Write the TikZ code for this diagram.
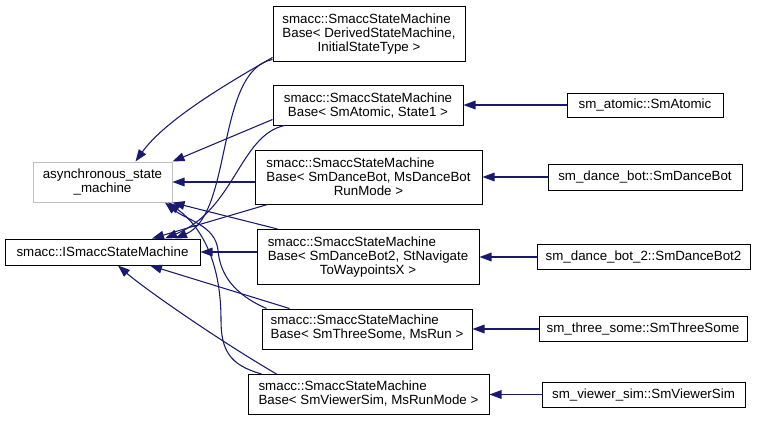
\documentclass[tikz,border=0pt]{standalone}
\usepackage{fontspec}
\setmainfont{Liberation Sans}
\usepackage{xcolor}
\usepackage{tikz}
\usetikzlibrary{arrows.meta}
\definecolor{dgnavy}{RGB}{25,25,112}
\definecolor{dgray}{RGB}{191,191,191}
\newcommand{\lrows}[1]{\begin{tabular}[b]{@{}l@{}}#1\end{tabular}}

\begin{document}
\begin{tikzpicture}[x=0.75pt, y=-0.75pt,
  every node/.style={font=\fontsize{10}{10.5}\selectfont, align=center, inner sep=0pt},
  box/.style={draw=black, line width=0.75pt, fill=white},
  gbox/.style={draw=dgray, line width=0.75pt, fill=white},
  inh/.style={-{Triangle[length=9pt,width=6.5pt]}, dgnavy, line width=0.8pt}]
\useasboundingbox (0,0) rectangle (757,421);
% ---- left: base classes
\node[gbox, minimum width=104.25pt, minimum height=30pt] (asm) at (102.5,182)
  {asynchronous\_state\\\_machine};
\node[box, minimum width=146.25pt, minimum height=19.5pt] (ism) at (102.5,252)
  {smacc::ISmaccStateMachine};
% ---- middle: SmaccStateMachineBase
\node[box, minimum width=144pt, minimum height=41.25pt] (b1) at (369,33.5)
  {\lrows{smacc::SmaccStateMachine\\Base< DerivedStateMachine,}\\InitialStateType >};
\node[box, minimum width=142.5pt, minimum height=30pt] (b2) at (368,105)
  {\lrows{smacc::SmaccStateMachine}\\Base< SmAtomic, State1 >};
\node[box, minimum width=170.25pt, minimum height=40.5pt] (b3) at (368.5,177)
  {\lrows{smacc::SmaccStateMachine\\Base< SmDanceBot, MsDanceBot}\\RunMode >};
\node[box, minimum width=166.5pt, minimum height=41.25pt] (b4) at (368,257)
  {\lrows{smacc::SmaccStateMachine\\Base< SmDanceBot2, StNavigate}\\ToWaypointsX >};
\node[box, minimum width=157.5pt, minimum height=30pt] (b5) at (367,329)
  {\lrows{smacc::SmaccStateMachine\\Base< SmThreeSome, MsRun >}};
\node[box, minimum width=180.75pt, minimum height=30pt] (b6) at (368.5,394.5)
  {\lrows{smacc::SmaccStateMachine\\Base< SmViewerSim, MsRunMode >}};
% ---- right: state machines
\node[box, minimum width=117pt, minimum height=18pt] (r2) at (645,105) {sm\_atomic::SmAtomic};
\node[box, minimum width=145.5pt, minimum height=19.5pt] (r3) at (645,177) {sm\_dance\_bot::SmDanceBot};
\node[box, minimum width=159.75pt, minimum height=18.75pt] (r4) at (643.5,257) {sm\_dance\_bot\_2::SmDanceBot2};
\node[box, minimum width=156pt, minimum height=18.75pt] (r5) at (643,329) {sm\_three\_some::SmThreeSome};
\node[box, minimum width=152.25pt, minimum height=18.75pt] (r6) at (643.5,394.5) {sm\_viewer\_sim::SmViewerSim};
% ---- inheritance: to asynchronous_state_machine
\draw[inh] ([shift={(0,-4)}]b1.south west) .. controls +(-42,24) and +(30,-42) .. ([shift={(33,0)}]asm.north);
\draw[inh] ([shift={(0,-6)}]b2.south west) -- (asm.north east);
\draw[inh] (asm.east -| b3.west) -- (asm.east);
\draw[inh] ([shift={(21,0)}]b4.north west) -- (asm.south east);
\draw[inh] ([shift={(5,0)}]b5.north west) .. controls +(-32,-14) and +(2,25) .. (218,250)
  .. controls +(-3,-25) and +(22,18) .. ([shift={(62.5,0)}]asm.south);
\draw[inh] ([shift={(14,0)}]b6.north west) .. controls +(-32,-9) and +(0,30) .. (221,320)
  .. controls +(0,-70) and +(25,18) .. ([shift={(65.5,0)}]asm.south);
% ---- inheritance: to smacc::ISmaccStateMachine
\draw[inh] ([shift={(0,-2)}]b1.south west) .. controls +(-57,11) and +(58,-24) .. ([shift={(72.5,0)}]ism.north);
\draw[inh] ([shift={(12,0)}]b2.south west) .. controls +(-45,10) and +(70,-29) .. ([shift={(62.5,0)}]ism.north);
\draw[inh] ([shift={(13,0)}]b3.south west) -- ([shift={(49.5,0)}]ism.north);
\draw[inh] (ism.east -| b4.west) -- (ism.east);
\draw[inh] ([shift={(28,0)}]b5.north west) -- ([shift={(47.5,0)}]ism.south);
\draw[inh] ([shift={(29,0)}]b6.north west) .. controls +(-60,-35) and +(25,22) .. ([shift={(15.5,0)}]ism.south);
% ---- right to middle
\draw[inh] (r2) -- (b2);
\draw[inh] (r3) -- (b3);
\draw[inh] (r4) -- (b4);
\draw[inh] (r5) -- (b5);
\draw[inh] (r6) -- (b6);
\end{tikzpicture}
\end{document}
